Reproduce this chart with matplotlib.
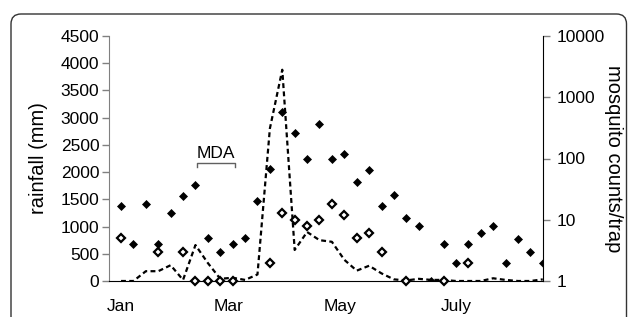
import matplotlib
matplotlib.use("Agg")
import matplotlib.pyplot as plt
from matplotlib.patches import FancyBboxPatch
import numpy as np

plt.rcParams['font.family'] = ['Liberation Sans', 'DejaVu Sans']

# weekly samples, Jan -> end of August
weeks = list(range(35))

# rainfall (mm), left axis, dashed line
rainfall = [0, 0, 180, 180, 290, 20, 660, 330, 40, 60,
            20, 120, 2800, 3880, 570, 900, 750, 720, 390, 190,
            280, 140, 30, 10, 40, 20, 20, 0, 0, 0,
            50, 20, 0, 0, 30]

# mosquito counts/trap, right log axis (None = not plotted)
counts_filled = [17, 4, 18, 4, 13, 24, 37, 5, 3, 4,
                 5, 20.5, 67, 574, 258, 98, 366, 98, 118, 41,
                 65, 17, 25.6, 10.8, 7.9, 1, 4, 2, 4, 6,
                 8, 2, 4.9, 3, 2]
counts_open = [5, None, None, 3, None, 3, 1, 1, 1, 1,
               None, None, 2, 12.9, 9.9, 8, 9.9, 18, 12, 5,
               6, 3, None, 1, None, None, 1, None, 2, None,
               None, None, None, None, None]

month_pos = [0, 8.7, 17.65, 27.05]
month_labels = ['Jan', 'Mar', 'May', 'July']

left_ticks = list(range(0, 5000, 500))
right_ticks = [1, 10, 100, 1000, 10000]

fig = plt.figure(figsize=(6.3, 3.17), dpi=100)

# rounded panel frame, running off the bottom edge
frame = FancyBboxPatch((0.11, -0.5), 6.155, 3.53,
                       boxstyle="round,pad=0,rounding_size=0.1",
                       transform=fig.dpi_scale_trans, facecolor='none',
                       edgecolor='#333333', linewidth=1.0, clip_on=False)
fig.patches.append(frame)

ax = fig.add_axes([109 / 630, 1 - 281 / 317, (543 - 109) / 630, (281 - 36) / 317])
ax2 = ax.twinx()

ax.plot(weeks, rainfall, color='black', linestyle=(0, (2.2, 1.5)), linewidth=1.6,
        zorder=1)
ax.set_ylim(0, 4500)
ax.set_xlim(-0.97, 34.02)
ax.set_yticks(left_ticks)
ax.set_yticklabels([str(t) for t in left_ticks])
ax.set_ylabel('rainfall (mm)', fontsize=14.5, labelpad=9)
ax.set_xticks(month_pos)
ax.set_xticklabels(month_labels)
ax.tick_params(axis='x', length=0, pad=13, labelsize=12.5)
ax.tick_params(axis='y', length=5, width=1, color='#808080', pad=2, labelsize=12.5)
ax.spines['top'].set_visible(False)
ax.spines['right'].set_visible(False)
ax.spines['left'].set_color('#808080')
ax.spines['bottom'].set_color('black')

of = np.array([np.nan if v is None else v for v in counts_open], dtype=float)
ax2.plot(weeks, counts_filled, linestyle='none', marker='D', markersize=3.6,
         color='black', markeredgewidth=0.5, zorder=3)
ax2.plot(weeks, of, linestyle='none', marker='D', markersize=4.0,
         markerfacecolor='white', markeredgecolor='black', markeredgewidth=1.6,
         zorder=3, clip_on=False)
ax2.set_yscale('log')
ax2.set_ylim(1, 10000)
ax2.set_yticks(right_ticks)
ax2.set_yticklabels([str(t) for t in right_ticks])
ax2.minorticks_off()
ax2.tick_params(axis='y', length=5, width=1, color='#808080', pad=5, labelsize=12.5)
ax2.set_ylabel('mosquito counts/trap', fontsize=14.5, rotation=-90, labelpad=13)
for s in ['top', 'left', 'bottom']:
    ax2.spines[s].set_visible(False)
ax2.spines['right'].set_color('black')

# MDA bracket
bx0, bx1, by, bdrop = 6.1, 9.2, 2160, 2100
ax.plot([bx0, bx0, bx1, bx1], [bdrop, by, by, bdrop], color='#606060',
        linewidth=1.0)
ax.text((bx0 + bx1) / 2, 2265, 'MDA', ha='center', va='baseline', fontsize=12.5)

fig.savefig('out.png', dpi=100)
